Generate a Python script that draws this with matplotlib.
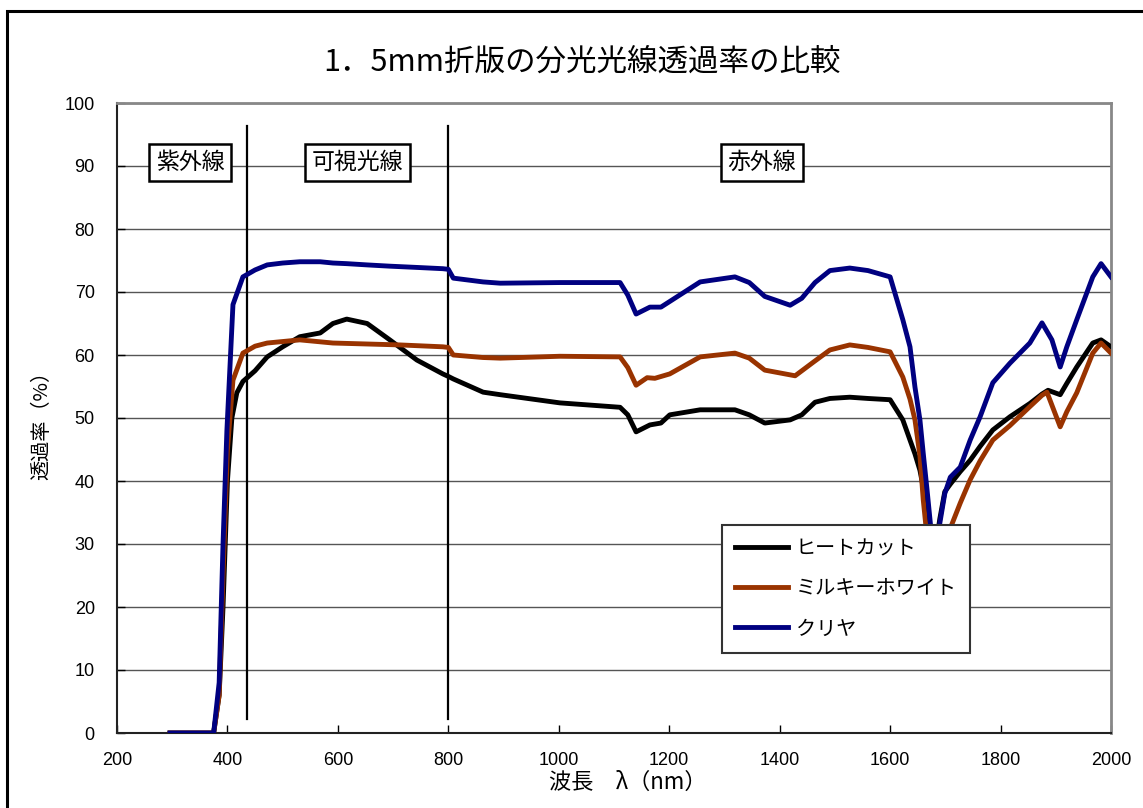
import matplotlib
matplotlib.use('Agg')
import matplotlib.pyplot as plt
from matplotlib.patches import Rectangle

plt.rcParams['font.family'] = ['Noto Sans CJK JP', 'DejaVu Sans']

# spectral data (wavelength nm, transmittance %)
wl_heat = [296, 375, 385, 392, 400, 408, 417, 428, 450, 472, 500, 531, 568, 591, 616, 653,
           694, 743, 790, 800, 809, 863, 894, 1002, 1111, 1125, 1140, 1165, 1185, 1201,
           1256, 1319, 1345, 1373, 1419, 1440, 1464, 1491, 1527, 1560, 1600, 1623, 1636,
           1645, 1654, 1660, 1667, 1680, 1690, 1699, 1709, 1727, 1745, 1763, 1786, 1817,
           1853, 1875, 1886, 1908, 1920, 1938, 1967, 1982, 2000]
heat = [0, 0, 6, 20, 40, 50, 54, 55.8, 57.5, 59.7, 61.3, 62.9, 63.5, 65, 65.7, 65,
        62.4, 59.2, 57, 56.6, 56.2, 54.1, 53.7, 52.4, 51.7, 50.5, 47.8, 48.9, 49.2, 50.5,
        51.3, 51.3, 50.5, 49.2, 49.7, 50.5, 52.5, 53.1, 53.3, 53.1, 52.9, 49.7, 46.5,
        44.3, 41.7, 39, 33, 28, 34, 38.3, 39.5, 41.5, 43.3, 45.5, 48.1, 50.2,
        52.3, 53.8, 54.4, 53.7, 55.5, 58.1, 61.9, 62.4, 61.3]

wl_milky = [296, 375, 385, 392, 400, 410, 428, 450, 472, 531, 591, 712, 790, 800, 809, 863,
            894, 1002, 1111, 1125, 1140, 1160, 1174, 1201, 1256, 1319, 1345, 1373, 1428,
            1460, 1491, 1527, 1560, 1600, 1623, 1636, 1645, 1654, 1660, 1667, 1680, 1690,
            1699, 1709, 1727, 1745, 1763, 1786, 1817, 1853, 1875, 1884, 1908, 1920, 1938,
            1967, 1982, 2000]
milky = [0, 0, 6, 25, 45, 56, 60.3, 61.4, 61.9, 62.4, 61.9, 61.6, 61.3, 61.2, 60, 59.6,
         59.5, 59.8, 59.7, 58, 55.2, 56.4, 56.3, 57, 59.7, 60.3, 59.5, 57.6, 56.7,
         58.8, 60.8, 61.6, 61.2, 60.5, 56.5, 53, 49.7, 44, 37, 31, 24, 26.5,
         29, 32.5, 36.5, 40.2, 43.2, 46.5, 48.8, 51.8, 53.6, 54.1, 48.6, 51, 54,
         60.3, 61.9, 60.3]

wl_clear = [296, 375, 385, 392, 399, 410, 428, 450, 472, 500, 531, 568, 591, 616, 653, 694,
            743, 790, 800, 809, 863, 894, 1002, 1111, 1125, 1140, 1165, 1185, 1201, 1256,
            1319, 1345, 1373, 1419, 1440, 1464, 1491, 1527, 1560, 1600, 1623, 1636, 1645,
            1654, 1660, 1667, 1680, 1690, 1699, 1709, 1727, 1745, 1763, 1786, 1817, 1853,
            1875, 1893, 1908, 1920, 1938, 1967, 1982, 2000]
clear = [0, 0, 8, 30, 48, 68, 72.4, 73.5, 74.3, 74.6, 74.8, 74.8, 74.6, 74.5, 74.3, 74.1,
         73.9, 73.7, 73.6, 72.2, 71.6, 71.4, 71.5, 71.5, 69.5, 66.5, 67.6, 67.6, 68.5, 71.6,
         72.4, 71.5, 69.3, 67.9, 69, 71.5, 73.4, 73.8, 73.4, 72.4, 65.6, 61.3, 54.9,
         49.7, 44.4, 38.5, 27, 33.3, 38, 40.6, 42.2, 46.5, 50.2, 55.6, 58.7, 61.9,
         65.1, 62.4, 58.1, 61.3, 65.6, 72.4, 74.5, 72.4]

series_names = ['ヒートカット', 'ミルキーホワイト', 'クリヤ']
series_colors = ['#000000', '#993300', '#000080']

region_lines = [435, 800]
region_labels = ['紫外線', '可視光線', '赤外線']
region_label_x = [332, 635, 1368]

fig = plt.figure(figsize=(11.43, 8.08), dpi=100)
ax = fig.add_axes([117/1143, 1 - 733/808, 994/1143, 630/808])

# outer frame of the chart
fig.patches.append(Rectangle((7/1143, -0.05), 1.1, 0.05 + 1 - 11/808, transform=fig.transFigure,
                             fill=False, edgecolor='black', linewidth=2.2, zorder=10))

ax.plot(wl_heat, heat, color=series_colors[0], lw=3.5, label=series_names[0], zorder=4)
ax.plot(wl_milky, milky, color=series_colors[1], lw=3.5, label=series_names[1], zorder=4)
ax.plot(wl_clear, clear, color=series_colors[2], lw=3.5, label=series_names[2], zorder=4)

for x in region_lines:
    ax.plot([x, x], [2.3, 96.3], color='black', lw=1.6, zorder=3)

for x, t in zip(region_label_x, region_labels):
    ax.text(x, 90.6, t, fontsize=16.5, ha='center', va='center', zorder=5,
            bbox=dict(boxstyle='square,pad=0.3', fc='white', ec='black', lw=1.8))

ax.set_xlim(200, 2000)
ax.set_ylim(0, 100)
ax.set_xticks(range(200, 2001, 200))
ax.set_yticks(range(0, 101, 10))
ax.grid(axis='y', color='#555555', lw=1, zorder=1)
ax.set_axisbelow(True)

ax.tick_params(direction='in', length=6, width=1)
ax.tick_params(axis='x', pad=14)
ax.tick_params(axis='y', pad=16)
for lab in ax.get_xticklabels() + ax.get_yticklabels():
    lab.set_family('Liberation Sans')
    lab.set_fontsize(13)

ax.spines['left'].set_color('#222222')
ax.spines['bottom'].set_color('#222222')
ax.spines['left'].set_linewidth(1.5)
ax.spines['bottom'].set_linewidth(1.5)
ax.spines['top'].set_color('#888888')
ax.spines['right'].set_color('#888888')
ax.spines['top'].set_linewidth(2)
ax.spines['right'].set_linewidth(2)

fig.text(42/1143, 1 - 420/808, '透過率（%）', rotation=90, fontsize=14.5, ha='center', va='center')
fig.text(628/1143, 1 - 782/808, '波長　λ（nm）', fontsize=16, ha='center', va='center')
fig.text(582/1143, 1 - 62/808, '1．5mm折版の分光光線透過率の比較', fontsize=22, ha='center', va='center')

leg = ax.legend(loc='upper left', bbox_to_anchor=(0.609, 0.330), fontsize=14.5, frameon=True,
                fancybox=False, handlelength=2.6, labelspacing=0.95, borderpad=0.65,
                handletextpad=0.4, borderaxespad=0)
leg.get_frame().set_edgecolor('#333333')
leg.get_frame().set_linewidth(1.5)
leg.get_frame().set_alpha(1)
leg.set_zorder(6)

fig.savefig('out.png', dpi=100)
